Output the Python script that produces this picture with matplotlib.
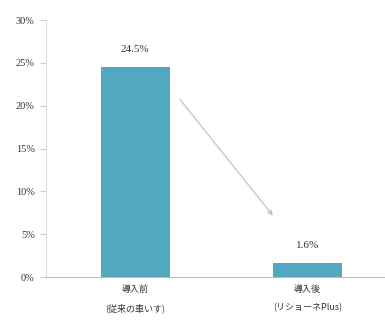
import matplotlib
matplotlib.use("Agg")
import matplotlib.pyplot as plt

categories = ["導入前\n(従来の車いす)", "導入後\n(リショーネPlus)"]
values = [24.5, 1.6]
value_labels = ["24.5%", "1.6%"]
yticks = [0, 5, 10, 15, 20, 25, 30]
ytick_labels = ["0%", "5%", "10%", "15%", "20%", "25%", "30%"]

plt.rcParams['font.family'] = ['Noto Sans CJK JP', 'DejaVu Sans']

fig = plt.figure(figsize=(3.85, 3.29), dpi=100)
ax = fig.add_axes([0.119, 0.158, 0.881, 0.781])
x = list(range(len(categories)))
ax.bar(x, values, width=0.4, color="#52a8c0")
for xi, v, lab in zip(x, values, value_labels):
    ax.text(xi, v + 1.5, lab, ha="center", va="bottom", fontsize=8,
            family=["Liberation Serif"], color="#333333")
ax.set_xlim(-0.52, 1.45)
ax.set_ylim(0, 30)
ax.set_yticks(yticks)
ax.set_yticklabels(ytick_labels, family=["Liberation Serif"], fontsize=7.5, color="#333333")
ax.set_xticks(x)
ax.set_xticklabels(categories, fontsize=6.5, color="#333333", linespacing=2.2)
ax.tick_params(axis="x", length=0, pad=6)
ax.tick_params(axis="y", length=4, color="#cccccc", pad=4)
for s in ["top", "right"]:
    ax.spines[s].set_visible(False)
ax.spines["left"].set_color("#dddddd")
ax.spines["bottom"].set_color("#bbbbbb")
ax.annotate("", xy=(0.675, 0.23), xytext=(0.39, 0.70), xycoords="axes fraction",
            arrowprops=dict(arrowstyle="-|>", color="#c8c8c8", lw=1.0, mutation_scale=7))
fig.savefig("out.png", dpi=100)
